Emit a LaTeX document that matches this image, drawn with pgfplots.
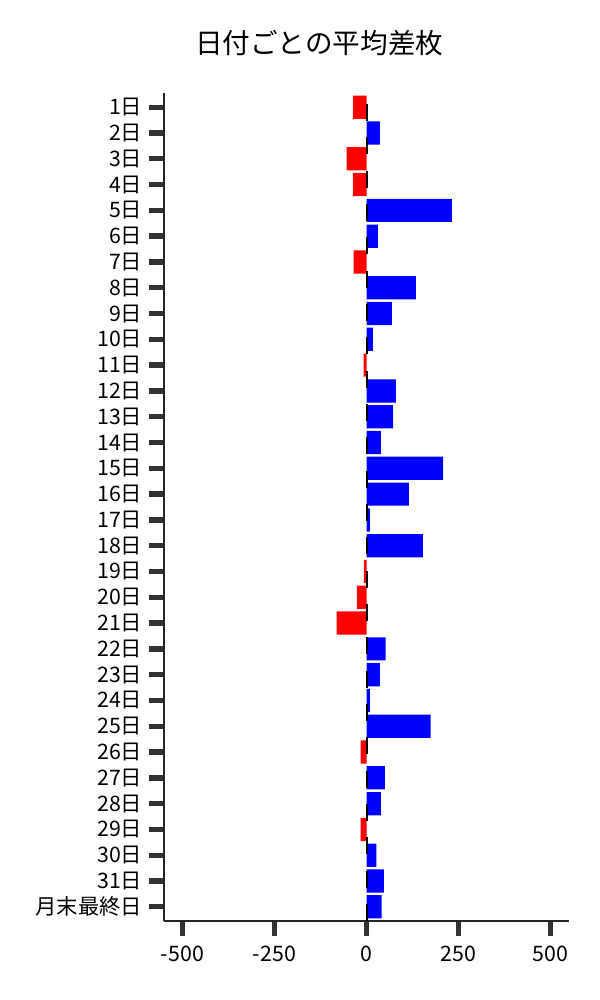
\documentclass[border=0pt]{standalone}
\usepackage{fontspec}
\setmainfont{Noto Sans CJK JP}
\usepackage{pgfplots}
\pgfplotsset{compat=1.18}
\definecolor{tickgray}{RGB}{51,51,51}
\begin{document}
\begin{tikzpicture}
\begin{axis}[
    at={(0,0)}, anchor=south west,
    scale only axis,
    width=303.75pt, height=621pt,
    xmin=-550, xmax=550,
    ymin=0.45, ymax=32.55,
    y dir=reverse,
    bar width=0.9, bar shift=0pt,
    axis x line*=bottom, axis y line*=left,
    axis line style={black!85, line width=0.9pt},
    tick align=outside,
    major tick length=11.25pt,
    tick style={line width=4pt, color=tickgray},
    xtick={-500,-250,0,250,500},
    xticklabels={-500,-250,0,250,500},
    ytick={1,...,32},
    yticklabels={1日,2日,3日,4日,5日,6日,7日,8日,9日,10日,11日,12日,13日,14日,15日,16日,17日,18日,19日,20日,21日,22日,23日,24日,25日,26日,27日,28日,29日,30日,31日,月末最終日},
    ticklabel style={font=\fontsize{16pt}{19pt}\selectfont},
    xticklabel style={yshift=-4pt},
    yticklabel style={xshift=-1.5pt},
    title={日付ごとの平均差枚},
    title style={at={(0.383,1)}, anchor=center, yshift=31.5pt,
        font=\fontsize{20.7pt}{24pt}\selectfont},
]

% negative days
\addplot[xbar, fill=red, draw=none] coordinates {
    (-37,1) (-54,3) (-37,4) (-35,7) (-8,11) (-7,19) (-26,20) (-81,21)
    (-16,26) (-16,29)
};

% positive days
\addplot[xbar, fill=blue, draw=none] coordinates {
    (36,2) (232,5) (31,6) (134,8) (69,9) (17,10) (80,12) (72,13) (39,14)
    (208,15) (115,16) (9,17) (153,18) (52,22) (36,23) (9,24) (174,25)
    (50,27) (39,28) (27,30) (47,31) (41,32)
};

% zero line
\addplot[black, line width=1.5pt, dash pattern=on 12.75pt off 12.25pt] coordinates {
    (0,32.55) (0,0.45)
};
\end{axis}
\pgfresetboundingbox
\path[use as bounding box] (-123pt,-59.25pt) rectangle (327pt,690.75pt);
\end{tikzpicture}
\end{document}
